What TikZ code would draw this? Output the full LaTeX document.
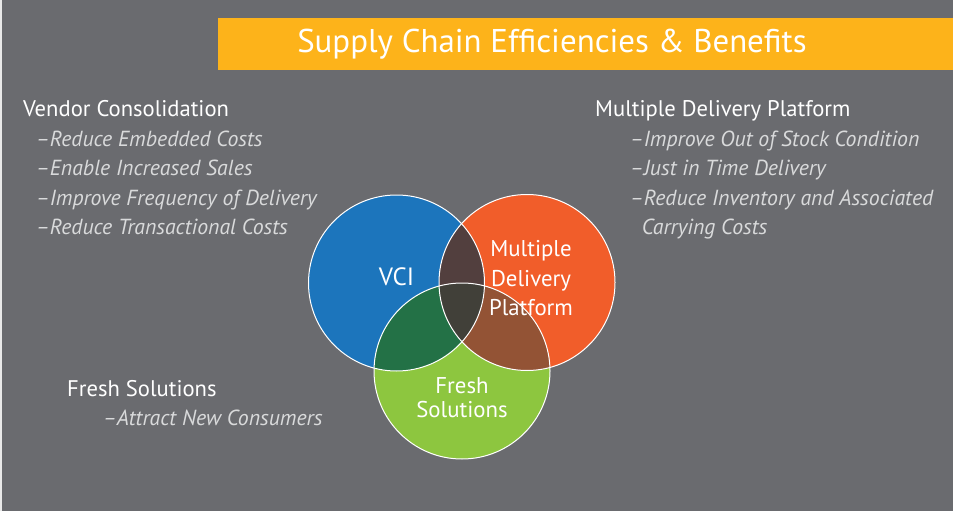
\documentclass[tikz,border=0pt]{standalone}
\usepackage{fontspec}
\setmainfont{PT Sans}
\usetikzlibrary{positioning}
\definecolor{slide}{HTML}{6A6B6F}
\definecolor{banner}{HTML}{FDB31A}
\definecolor{vciblue}{HTML}{1C75BC}
\definecolor{mdporange}{HTML}{F15D2A}
\definecolor{freshgreen}{HTML}{8DC63F}
\definecolor{blueorange}{HTML}{523F3E}
\definecolor{bluegreen}{HTML}{237146}
\definecolor{orangegreen}{HTML}{935335}
\definecolor{allthree}{HTML}{414039}
\definecolor{itemgrey}{HTML}{D9DADB}
\tikzstyle{heading} = [anchor=base west, inner sep=0pt, text=white, font=\fontsize{22.6}{26}\selectfont]
\tikzstyle{item} = [anchor=base west, inner sep=0pt, text=itemgrey, font=\fontsize{21.8}{26}\selectfont\itshape]
\tikzstyle{circtext} = [anchor=base, inner sep=0pt, text=white, font=\fontsize{22.8}{26}\selectfont]
\tikzstyle{ring} = [draw=white, line width=1pt]
\newcommand{\rad}{88pt}

\begin{document}
\begin{tikzpicture}[x=1pt, y=-1pt]
			% Slide background and title bar
			\useasboundingbox (0,0) rectangle (953,511);
			\fill [slide] (0,0) rectangle (953,511);
			\fill [white!85!slide] (0,0) rectangle (1.5,511);
			\fill [banner] (218,17.7) rectangle (953,70);
			\node [anchor=base, inner sep=0pt, text=white, font=\fontsize{32.9}{38}\selectfont] (title) at (552,53) {Supply Chain Efficiencies \& Benefits};
			% Circle centres
			\coordinate (vci) at (396.5,283);
			\coordinate (mdp) at (527,282.5);
			\coordinate (fresh) at (462,371);
			% Filled circles
			\fill [vciblue] (vci) circle [radius=\rad];
			\fill [mdporange] (mdp) circle [radius=\rad];
			\fill [freshgreen] (fresh) circle [radius=\rad];
			% Overlaps
			\begin{scope}
				\clip (vci) circle [radius=\rad];
				\fill [blueorange] (mdp) circle [radius=\rad];
				\fill [bluegreen] (fresh) circle [radius=\rad];
			\end{scope}
			\begin{scope}
				\clip (mdp) circle [radius=\rad];
				\fill [orangegreen] (fresh) circle [radius=\rad];
			\end{scope}
			\begin{scope}
				\clip (vci) circle [radius=\rad];
				\clip (mdp) circle [radius=\rad];
				\fill [allthree] (fresh) circle [radius=\rad];
			\end{scope}
			% Outlines
			\draw [ring] (vci) circle [radius=\rad];
			\draw [ring] (mdp) circle [radius=\rad];
			\draw [ring] (fresh) circle [radius=\rad];
			% Circle labels
			\node [circtext, font=\fontsize{25}{28}\selectfont] (vcilabel) at (396.5,285) {VCI};
			\node [circtext] (mdp1) at (531,256.7) {Multiple};
			\node [circtext] (mdp2) at (531,286) {Delivery};
			\node [circtext] (mdp3) at (531,315) {Platform};
			\node [circtext] (fresh1) at (462,393.3) {Fresh};
			\node [circtext] (fresh2) at (462,417.3) {Solutions};
			% Vendor consolidation list
			\node [heading] (vendor) at (23,116.7) {Vendor Consolidation};
			\node [item] (vendor1) at (36,146.7) {–Reduce Embedded Costs};
			\node [item] (vendor2) at (36,175.7) {–Enable Increased Sales};
			\node [item] (vendor3) at (36,205) {–Improve Frequency of Delivery};
			\node [item] (vendor4) at (36,234) {–Reduce Transactional Costs};
			% Multiple delivery platform list
			\node [heading] (delivery) at (595,116.7) {Multiple Delivery Platform};
			\node [item] (delivery1) at (630,146.7) {–Improve Out of Stock Condition};
			\node [item] (delivery2) at (630,175.7) {–Just in Time Delivery};
			\node [item] (delivery3) at (630,205) {–Reduce Inventory and Associated};
			\node [item] (delivery4) at (641.7,234) {Carrying Costs};
			% Fresh solutions list
			\node [heading] (freshhead) at (67,396) {Fresh Solutions};
			\node [item] (fresh3) at (103,425) {–Attract New Consumers};
		\end{tikzpicture}
\end{document}
